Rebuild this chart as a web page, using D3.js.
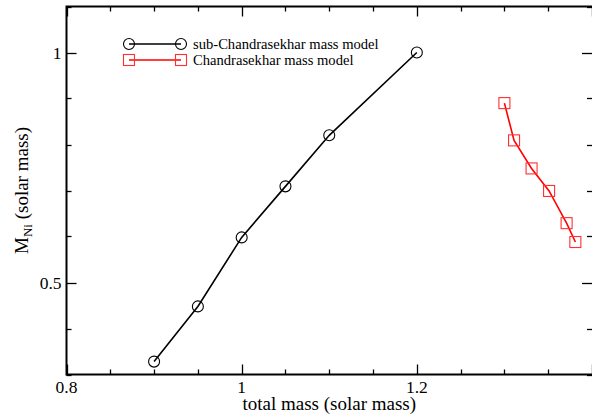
<!DOCTYPE html>
<html><head><meta charset="utf-8">
<script src="https://cdn.jsdelivr.net/npm/d3@7"></script>
<style>body{margin:0;background:#fff;}</style>
</head><body>
<svg id="c" width="592" height="418"></svg>
<script>
const subMass = [0.9, 0.95, 1.0, 1.05, 1.1, 1.2];
const subNi   = [0.328, 0.448, 0.598, 0.709, 0.82, 1.0];
const chMass  = [1.30, 1.311, 1.331, 1.351, 1.371, 1.381];
const chNi    = [0.89, 0.809, 0.748, 0.699, 0.629, 0.588];
const xMajor = [0.8, 1.0, 1.2, 1.4];
const xMajorLabels = ["0.8", "1", "1.2", ""];
const yMajor = [0.5, 1.0];
const yMajorLabels = ["0.5", "1"];
const seriesNames = ["sub-Chandrasekhar mass model", "Chandrasekhar mass model"];

const FONT = '"Liberation Serif"';
const svg = d3.select("#c");
const L = 66.5, R = 592, T = 6.5, B = 374.5;
const x = d3.scaleLinear().domain([0.8, 1.4]).range([L, R]);
const y = d3.scaleLinear().domain([0.3, 1.1]).range([B, T]);

const xMinor = d3.range(0.8, 1.4001, 0.05);
const yMinor = d3.range(0.3, 1.1001, 0.1);

svg.append("rect").attr("x", L).attr("y", T).attr("width", R - L + 2).attr("height", B - T)
  .attr("fill", "none").attr("stroke", "#000").attr("stroke-width", 2);

const isMajor = (v, arr) => arr.some(m => Math.abs(m - v) < 1e-6);
xMinor.forEach(v => {
  const len = isMajor(v, xMajor) ? 10 : 5;
  const px = Math.round(x(v)) + 0.5;
  svg.append("line").attr("x1", px).attr("x2", px).attr("y1", B).attr("y2", B - len).attr("stroke", "#000").attr("stroke-width", 1.3);
  svg.append("line").attr("x1", px).attr("x2", px).attr("y1", T).attr("y2", T + len).attr("stroke", "#000").attr("stroke-width", 1.3);
});
yMinor.forEach(v => {
  const len = isMajor(v, yMajor) ? 10 : 5;
  const py = Math.round(y(v)) + 0.5;
  svg.append("line").attr("x1", L).attr("x2", L + len).attr("y1", py).attr("y2", py).attr("stroke", "#000").attr("stroke-width", 1.3);
  svg.append("line").attr("x1", R).attr("x2", R - len).attr("y1", py).attr("y2", py).attr("stroke", "#000").attr("stroke-width", 1.3);
});
xMajor.forEach((v, i) => {
  svg.append("text").attr("x", x(v)).attr("y", 393).attr("text-anchor", "middle")
    .style("font-family", FONT).style("font-size", "17.5px").text(xMajorLabels[i]);
});
yMajor.forEach((v, i) => {
  svg.append("text").attr("x", 61.5).attr("y", y(v) + 6).attr("text-anchor", "end")
    .style("font-family", FONT).style("font-size", "17.5px").text(yMajorLabels[i]);
});

svg.append("text").attr("x", (L + R) / 2).attr("y", 410).attr("text-anchor", "middle")
  .style("font-family", FONT).style("font-size", "19px").text("total mass (solar mass)");
const yl = svg.append("text").attr("transform", `translate(28,${(T + B) / 2}) rotate(-90)`)
  .attr("text-anchor", "middle").style("font-family", FONT).style("font-size", "19px");
yl.append("tspan").text("M");
yl.append("tspan").style("font-size", "13px").attr("dy", 4).text("Ni");
yl.append("tspan").attr("dy", -4).text(" (solar mass)");

const line = d3.line().x(d => x(d[0])).y(d => y(d[1]));
const sub = subMass.map((m, i) => [m, subNi[i]]);
const ch = chMass.map((m, i) => [m, chNi[i]]);

svg.append("path").attr("d", line(sub)).attr("fill", "none").attr("stroke", "#000").attr("stroke-width", 1.6);
svg.selectAll(".c").data(sub).enter().append("circle")
  .attr("cx", d => x(d[0])).attr("cy", d => y(d[1])).attr("r", 5.5)
  .attr("fill", "none").attr("stroke", "#000").attr("stroke-width", 1.1);

svg.append("path").attr("d", line(ch)).attr("fill", "none").attr("stroke", "#ff0000").attr("stroke-width", 1.6);
svg.selectAll(".s").data(ch).enter().append("rect")
  .attr("x", d => x(d[0]) - 5.5).attr("y", d => y(d[1]) - 5.5).attr("width", 11).attr("height", 11)
  .attr("fill", "none").attr("stroke", "#ff3030").attr("stroke-width", 1.1);

const lg = [{name: seriesNames[0], color: "#000", shape: "circle", yy: 44},
            {name: seriesNames[1], color: "#ff0000", shape: "square", yy: 60}];
lg.forEach(d => {
  svg.append("line").attr("x1", 129).attr("x2", 181).attr("y1", d.yy).attr("y2", d.yy)
    .attr("stroke", d.color).attr("stroke-width", 1.6);
  [129, 181].forEach(cx => {
    if (d.shape === "circle") {
      svg.append("circle").attr("cx", cx).attr("cy", d.yy).attr("r", 5.5)
        .attr("fill", "none").attr("stroke", d.color).attr("stroke-width", 1.1);
    } else {
      svg.append("rect").attr("x", cx - 5.5).attr("y", d.yy - 5.5).attr("width", 11).attr("height", 11)
        .attr("fill", "none").attr("stroke", "#ff3030").attr("stroke-width", 1.1);
    }
  });
  svg.append("text").attr("x", 193).attr("y", d.yy + 4.5).style("font-family", FONT).style("font-size", "14.6px").text(d.name);
});
</script>
</body></html>
